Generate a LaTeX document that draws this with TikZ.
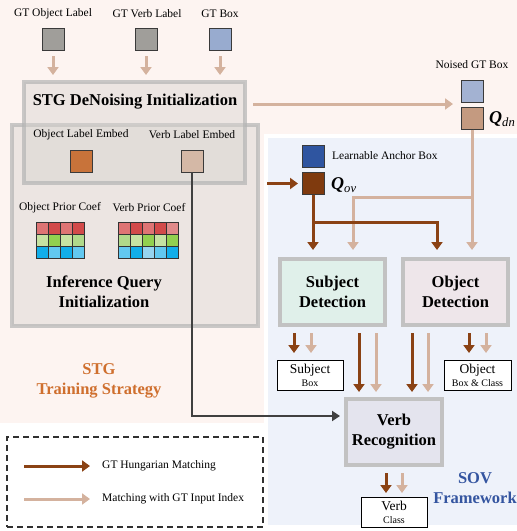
\documentclass[tikz,border=0pt]{standalone}
\usepackage{fontspec}
\setmainfont{Liberation Serif}
\usetikzlibrary{arrows.meta,calc}
\definecolor{pinkbg}{HTML}{FDF4F1}
\definecolor{bluebg}{HTML}{EEF2FA}
\definecolor{tanarrc}{HTML}{D4B29E}
\definecolor{brarrc}{HTML}{8A4214}
\definecolor{sqborder}{HTML}{3A3A3A}
\definecolor{sqgray}{HTML}{A09E9A}
\definecolor{gtblue}{HTML}{98ABCF}
\definecolor{noisedblue}{HTML}{A3B2D2}
\definecolor{qdncol}{HTML}{C49A80}
\definecolor{qovcol}{HTML}{7F3A0E}
\definecolor{anchorblue}{HTML}{2F55A0}
\definecolor{oleorange}{HTML}{C8733A}
\definecolor{vletan}{HTML}{D4B8A6}
\definecolor{grpfill}{HTML}{D8D4D0}
\definecolor{grpdraw}{HTML}{B4B4B4}
\definecolor{detdraw}{HTML}{C2C2C2}
\definecolor{subjfill}{HTML}{E0F0EA}
\definecolor{objfill}{HTML}{EEE6EA}
\definecolor{verbfill}{HTML}{E4E4EE}
\definecolor{stgorange}{HTML}{CF6F2E}
\definecolor{sovblue}{HTML}{3455A0}
\definecolor{dashcol}{HTML}{303030}
\definecolor{lineblk}{HTML}{404040}
\definecolor{gridline}{HTML}{333333}
\definecolor{rA}{HTML}{DE7474}
\definecolor{rB}{HTML}{D24A4A}
\definecolor{rC}{HTML}{E08A8A}
\definecolor{gA}{HTML}{C6E2A2}
\definecolor{gB}{HTML}{92D050}
\definecolor{gC}{HTML}{B0D98A}
\definecolor{bA}{HTML}{12AEEA}
\definecolor{bB}{HTML}{62C8F0}
\definecolor{bC}{HTML}{96D4F0}
\begin{document}
\begin{tikzpicture}[x=1pt,y=-1pt,
  lbl/.style={font=\fontsize{11.5}{13}\selectfont, inner sep=1pt},
  ttl/.style={font=\fontsize{16.5}{20}\selectfont\bfseries, align=center, inner sep=1pt},
  qlbl/.style={font=\fontsize{18}{20}\selectfont, inner sep=0pt},
  sq/.style={draw=sqborder, line width=0.8pt, minimum size=22pt, inner sep=0pt, outer sep=0pt},
  grpbox/.style={draw=grpdraw, draw opacity=0.7, line width=4pt, fill=grpfill, fill opacity=0.45, inner sep=0pt, outer sep=0pt},
  detbox/.style={draw=detdraw, line width=4pt, inner sep=0pt, outer sep=0pt, align=center, font=\fontsize{16.5}{20}\selectfont\bfseries},
  outbox/.style={draw=black, line width=0.7pt, fill=white, inner sep=0pt, outer sep=0pt, align=center},
  tanarr/.style={draw=tanarrc, line width=3pt, -{Triangle[length=8pt,width=11pt]}},
  brarr/.style={draw=brarrc, line width=3pt, -{Triangle[length=8pt,width=11pt]}},
  blkarr/.style={draw=lineblk, line width=2pt, -{Triangle[length=8pt,width=10pt]}},
  cell/.style={draw=gridline, line width=0.8pt}
]
\useasboundingbox (0,0) rectangle (517,531);
% backgrounds
\fill[pinkbg] (0,0) rectangle (517,134);
\fill[pinkbg] (0,0) rectangle (264,423);
\fill[bluebg] (268,138) rectangle (517,525);

% top GT inputs
\node[lbl] (tobj) at (53,14) {GT Object Label};
\node[lbl] (tverb) at (147,14) {GT Verb Label};
\node[lbl] (tbox) at (220,14) {GT Box};
\node[sq, fill=sqgray] (gobj) at (53,39) {};
\node[sq, fill=sqgray] (gverb) at (146,39) {};
\node[sq, fill=gtblue] (gbox) at (220,39) {};

% group boxes
\node[grpbox, minimum width=246pt, minimum height=201pt] (inf) at (135,225.5) {};
\node[grpbox, minimum width=221pt, minimum height=101pt] (dn) at (134.5,132.5) {};
\node[ttl] (dnt) at (135,102) {STG DeNoising Initialization};
\node[ttl] (inft) at (104,292) {Inference Query\\Initialization};

\draw[tanarr] ([yshift=-6pt]gobj.south) -- ++(0,19);
\draw[tanarr] ([yshift=-6pt]gverb.south) -- ++(0,19);
\draw[tanarr] ([yshift=-6pt]gbox.south) -- ++(0,19);

% embeds
\node[lbl] (olet) at (81,135) {Object Label Embed};
\node[lbl] (vlet) at (192,135) {Verb Label Embed};
\node[sq, fill=oleorange] (ole) at (81,161) {};
\node[sq, fill=vletan] (vle) at (192,161) {};

% prior coefficient grids
\node[lbl] (opct) at (60,208) {Object Prior Coef};
\node[lbl] (vpct) at (149,208) {Verb Prior Coef};
\foreach \c [count=\i from 0] in {rA,rB,rA,rB}
  \draw[cell, fill=\c] (36+12*\i,222) rectangle ++(12,12);
\foreach \c [count=\i from 0] in {gA,gB,gA,gC}
  \draw[cell, fill=\c] (36+12*\i,234) rectangle ++(12,12);
\foreach \c [count=\i from 0] in {bA,bB,bA,bB}
  \draw[cell, fill=\c] (36+12*\i,246) rectangle ++(12,12);
\foreach \c [count=\i from 0] in {rA,rB,rA,rB,rC}
  \draw[cell, fill=\c] (118+12*\i,222) rectangle ++(12,12);
\foreach \c [count=\i from 0] in {gC,gA,gB,gA,gB}
  \draw[cell, fill=\c] (118+12*\i,234) rectangle ++(12,12);
\foreach \c [count=\i from 0] in {bB,bA,bC,bB,bA}
  \draw[cell, fill=\c] (118+12*\i,246) rectangle ++(12,12);

% noised GT
\node[lbl] (ngtt) at (472,65) {Noised GT Box};
\node[sq, fill=noisedblue] (ngt) at (472,91) {};
\node[sq, fill=qdncol] (qdn) at (472,118.5) {};
\node[qlbl, anchor=west] (qdnt) at (489,119) {\textbf{\textit{Q}}\textsubscript{\textit{dn}}};
\draw[tanarr] ([xshift=8pt,yshift=28.5pt]dn.east) -- ([xshift=-8pt,yshift=-2pt]ngt.south west);

% learnable queries
\node[sq, fill=anchorblue] (lab) at (313,156) {};
\node[lbl, anchor=west] (labt) at (331,156) {Learnable Anchor Box};
\node[sq, fill=qovcol] (qov) at (313,183.5) {};
\node[qlbl, anchor=west] (qovt) at (331,185) {\textbf{\textit{Q}}\textsubscript{\textit{ov}}};
\draw[brarr] ([xshift=-35pt]qov.west) -- ([xshift=-4pt]qov.west);

% detection boxes
\node[detbox, fill=subjfill, minimum width=105pt, minimum height=66pt] (subjdet) at (332.5,292) {Subject\\Detection};
\node[detbox, fill=objfill, minimum width=105pt, minimum height=66pt] (objdet) at (455.5,292) {Object\\Detection};
\node[detbox, fill=verbfill, minimum width=96pt, minimum height=66pt] (verbrec) at (394,432) {Verb\\Recognition};

% query routing
\coordinate (tansplit) at ($(qdn.south)+(0,68)$);
\coordinate (brsplit) at ($(qov.south)+(0,28)$);
\draw[tanarr] (qdn.south) -- ($(qdn.south |- objdet.north)+(0,-9)$);
\draw[tanarr] (tansplit) -| ($(subjdet.north)+(20.5,-9)$);
\draw[brarr] (qov.south) -- ($(qov.south |- subjdet.north)+(0,-9)$);
\draw[brarr] (brsplit) -| ($(objdet.north)+(-18.5,-9)$);

% outputs
\node[outbox, minimum width=66pt, minimum height=30pt, font=\fontsize{13.5}{14}\selectfont] (subjbox) at (310,375) {Subject\\[-1pt]{\fontsize{10}{11}\selectfont Box}};
\node[outbox, minimum width=67pt, minimum height=30pt, font=\fontsize{13.5}{14}\selectfont] (objbox) at (477.5,375) {Object\\[-1pt]{\fontsize{10}{11}\selectfont Box \& Class}};
\node[outbox, minimum width=66pt, minimum height=30pt, font=\fontsize{13.5}{14}\selectfont] (verbbox) at (394,512) {Verb\\[-1pt]{\fontsize{10}{11}\selectfont Class}};

\draw[brarr] ([xshift=-38.5pt,yshift=-8pt]subjdet.south) -- ++(0,20);
\draw[tanarr] ([xshift=-21.5pt,yshift=-8pt]subjdet.south) -- ++(0,20);
\draw[brarr] ([xshift=26.5pt,yshift=-8pt]subjdet.south) -- ++(0,59);
\draw[tanarr] ([xshift=43.5pt,yshift=-8pt]subjdet.south) -- ++(0,59);
\draw[brarr] ([xshift=-43.5pt,yshift=-8pt]objdet.south) -- ++(0,59);
\draw[tanarr] ([xshift=-27.5pt,yshift=-8pt]objdet.south) -- ++(0,59);
\draw[brarr] ([xshift=13.5pt,yshift=-8pt]objdet.south) -- ++(0,20);
\draw[tanarr] ([xshift=30.5pt,yshift=-8pt]objdet.south) -- ++(0,20);
\draw[brarr] ([xshift=-8pt,yshift=-8pt]verbrec.south) -- ++(0,20);
\draw[tanarr] ([xshift=8pt,yshift=-8pt]verbrec.south) -- ++(0,20);

% verb label embed to verb recognition
\draw[blkarr] (vle.south) |- ([xshift=-6pt,yshift=16pt]verbrec.west);

% region titles
\node[ttl, text=stgorange] (stgt) at (99,381) {STG\\Training Strategy};
\node[ttl, text=sovblue] (sovt) at (475,488) {SOV\\Framework};

% legend
\node[draw=dashcol, dash pattern=on 6pt off 4pt, line width=1.6pt, minimum width=256pt, minimum height=90pt, inner sep=0pt, outer sep=0pt] (legend) at (135,482) {};
\coordinate (l1a) at (24,466);
\coordinate (l1b) at (90,466);
\coordinate (l2a) at (24,499);
\coordinate (l2b) at (90,499);
\draw[brarr] (l1a) -- (l1b);
\draw[tanarr] (l2a) -- (l2b);
\node[lbl, anchor=west] (l1t) at (101,466) {GT Hungarian Matching};
\node[lbl, anchor=west] (l2t) at (101,499) {Matching with GT Input Index};
\end{tikzpicture}
\end{document}
